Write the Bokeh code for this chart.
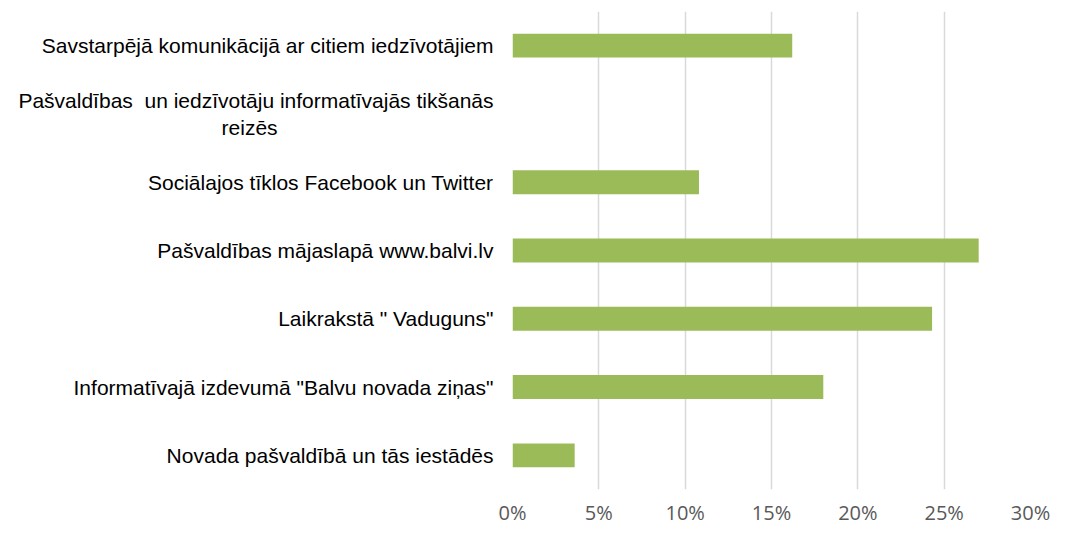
from bokeh.plotting import figure
from bokeh.models import Range1d, FactorRange, NumeralTickFormatter, FixedTicker
from bokeh.embed import file_html
from bokeh.resources import INLINE

NBSP = "\u00a0"

# Categories listed top to bottom
categories = [
    "Savstarpējā komunikācijā ar citiem iedzīvotājiem",
    "Pašvaldības" + NBSP + " un iedzīvotāju informatīvajās tikšanās\nreizēs" + NBSP * 37,
    "Sociālajos tīklos Facebook un Twitter",
    "Pašvaldības mājaslapā www.balvi.lv",
    "Laikrakstā \" Vaduguns\"",
    "Informatīvajā izdevumā \"Balvu novada ziņas\"",
    "Novada pašvaldībā un tās iestādēs",
]
values = [0.162, 0.0, 0.108, 0.270, 0.243, 0.180, 0.036]
x_ticks = [0, 0.05, 0.10, 0.15, 0.20, 0.25, 0.30]

p = figure(width=1050, height=528, output_backend="svg", toolbar_location=None,
           x_range=Range1d(0, 0.30),
           y_range=FactorRange(factors=list(reversed(categories)), range_padding=0),
           min_border_left=512, min_border_right=20, min_border_top=11, min_border_bottom=20)
p.outline_line_color = None
p.background_fill_color = "white"
p.border_fill_color = "white"

p.hbar(y=categories, right=values, left=0, height=0.35,
       fill_color="#9BBB59", line_color=None)

p.ygrid.grid_line_color = None
p.xgrid.grid_line_color = "#D9D9D9"
p.xgrid.grid_line_width = 1.5

p.yaxis.axis_line_color = None
p.yaxis.major_tick_line_color = None
p.yaxis.minor_tick_line_color = None
p.yaxis.major_label_text_font = "Liberation Sans"
p.yaxis.major_label_text_font_size = "21px"
p.yaxis.major_label_text_color = "#000000"
p.yaxis.major_label_standoff = 13

p.xaxis.ticker = FixedTicker(ticks=x_ticks)
p.xaxis.formatter = NumeralTickFormatter(format="0%")
p.xaxis.axis_line_color = None
p.xaxis.major_tick_line_color = None
p.xaxis.minor_tick_line_color = None
p.xaxis.major_label_text_font = "Open Sans"
p.xaxis.major_label_text_font_size = "20px"
p.xaxis.major_label_text_color = "#595959"
p.xaxis.major_label_standoff = 3

open("out.html", "w").write(file_html(p, INLINE))
